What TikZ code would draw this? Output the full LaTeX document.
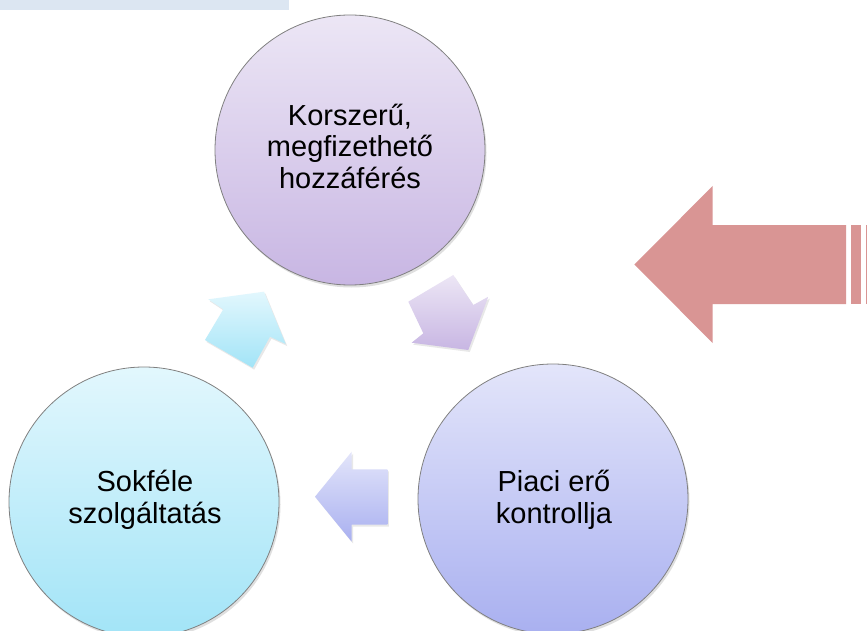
\documentclass[tikz,border=0pt]{standalone}
\usepackage{fontspec}
\setmainfont{Liberation Sans}
\usetikzlibrary{shadows}
\definecolor{barblue}{HTML}{DCE6F2}
\definecolor{redarrow}{HTML}{D99594}
\definecolor{ptop}{HTML}{ECE6F5}
\definecolor{pbot}{HTML}{C8B6E3}
\definecolor{ctop}{HTML}{E2F7FD}
\definecolor{cbot}{HTML}{A2E4F7}
\definecolor{ltop}{HTML}{E3E5FA}
\definecolor{lbot}{HTML}{A9B0F0}
\tikzset{
  circ/.style={circle, minimum size=270pt, inner sep=0pt, draw=black!50, line width=0.8pt,
    drop shadow={shadow xshift=1.5pt, shadow yshift=-2.5pt, opacity=0.25}},
  txt/.style={align=center, font=\fontsize{29}{31.5}\selectfont, text=black, inner sep=0pt},
  blockarrow/.style={drop shadow={shadow xshift=1.5pt, shadow yshift=-2pt, opacity=0.18}}
}
\begin{document}
\begin{tikzpicture}[x=1pt,y=-1pt]
\useasboundingbox (0,0) rectangle (867,631);
\clip (0,0) rectangle (867,631);
\fill[white] (0,0) rectangle (867,631);
% top bar
\fill[barblue] (0,0) rectangle (289,10);
% circles
\node[circ, top color=ptop, bottom color=pbot] (c1) at (350,150) {};
\node[circ, top color=ctop, bottom color=cbot] (c2) at (144,502) {};
\node[circ, top color=ltop, bottom color=lbot] (c3) at (553,499) {};
\node[txt] (t1) at (350,146) {Korszerű,\\megfizethető\\hozzáférés};
\node[txt] (t2) at (145,500) {Sokféle\\szolgáltatás};
\node[txt] (t3) at (554,500) {Piaci erő\\kontrollja};
% small block arrows
\path[blockarrow, top color=ctop, bottom color=cbot]
  (264,291.7) -- (285.7,344) -- (270,336.7) -- (252.7,367.7) -- (205,340) -- (223.3,309.3) -- (208.3,299.3) -- cycle;
\path[blockarrow, top color=ptop, bottom color=pbot]
  (468.3,350) -- (411.7,342.7) -- (423.3,333.3) -- (408.3,301.7) -- (453.3,275) -- (473.3,305) -- (488.3,296.7) -- cycle;
\path[blockarrow, top color=ltop, bottom color=lbot]
  (315,496.7) -- (351.7,451.7) -- (351.7,469.3) -- (387.3,469.3) -- (387.3,524.5) -- (351.7,524.5) -- (351.7,541.7) -- cycle;
% big red arrow
\fill[redarrow] (634.3,264.5) -- (712.7,186) -- (712.7,225) -- (846,225) -- (846,304) -- (712.7,304) -- (712.7,343) -- cycle;
\fill[redarrow] (851,225) rectangle (860.7,304);
\fill[redarrow] (865.7,225) rectangle (870,304);
\end{tikzpicture}
\end{document}
